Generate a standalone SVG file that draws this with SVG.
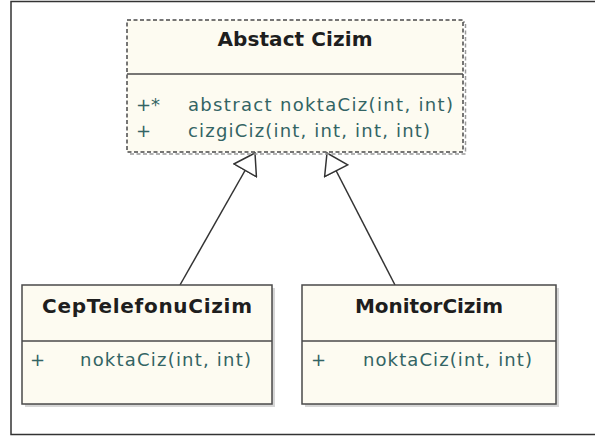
<svg xmlns="http://www.w3.org/2000/svg" width="595" height="437" viewBox="0 0 595 437">
  <style>
    .box { fill: #fdfbf1; stroke: #4a4a4a; stroke-width: 1.5; }
    .abstract { stroke-dasharray: 4 2.5; }
    .shadow { fill: #c4c4c4; opacity: 0.7; }
    .shadow-dash { fill: none; stroke: #9a9a9a; stroke-width: 1.5; stroke-dasharray: 4 2.5; }
    .sep { stroke: #4a4a4a; stroke-width: 1.5; }
    .title { font-family: "DejaVu Sans", "Liberation Sans", sans-serif; font-weight: bold; font-size: 20px; fill: #1e1e1e; }
    .member { font-family: "DejaVu Sans", "Liberation Sans", sans-serif; font-size: 18px; fill: #336464; }
    .edge { stroke: #333; stroke-width: 1.5; fill: none; }
  </style>
  <defs>
    <!-- hollow triangle for generalization -->
    <marker id="inherit" markerUnits="userSpaceOnUse" markerWidth="22" markerHeight="28" viewBox="-1 -1 22 28" refX="20" refY="13" orient="auto">
      <path d="M20,13 L0,0 L0,26 Z" fill="#fff" stroke="#333" stroke-width="1.5"/>
    </marker>
  </defs>

  <rect x="0" y="0" width="595" height="437" fill="#fff"/>
  <!-- outer frame -->
  <rect x="11" y="1.5" width="600" height="433" fill="none" stroke="#333" stroke-width="1.5"/>

  <g id="connectors">
    <line class="edge" x1="180" y1="285" x2="255" y2="153" marker-end="url(#inherit)"/>
    <line class="edge" x1="395" y1="285" x2="327" y2="153" marker-end="url(#inherit)"/>
  </g>

  <g id="abstract-cizim">
    <rect class="shadow-dash" x="129.5" y="22" width="336" height="132"/>
    <rect class="box abstract" x="127" y="20" width="336" height="132"/>
    <line class="sep" x1="127" y1="74" x2="463" y2="74" stroke-width="2.2"/>
    <text class="title" x="295" y="46" text-anchor="middle" textLength="155" lengthAdjust="spacing">Abstact Cizim</text>
    <text class="member" x="136" y="111">+*</text>
    <text class="member" x="188" y="111" textLength="265" lengthAdjust="spacing">abstract noktaCiz(int, int)</text>
    <text class="member" x="136" y="137">+</text>
    <text class="member" x="188" y="137" textLength="242" lengthAdjust="spacing">cizgiCiz(int, int, int, int)</text>
  </g>

  <g id="cep-telefonu-cizim">
    <rect class="shadow" x="25" y="288" width="250" height="119"/>
    <rect class="box" x="22" y="285" width="250" height="119"/>
    <line class="sep" x1="22" y1="341" x2="272" y2="341"/>
    <text class="title" x="147" y="313" text-anchor="middle" textLength="210" lengthAdjust="spacing">CepTelefonuCizim</text>
    <text class="member" x="30" y="366">+</text>
    <text class="member" x="80" y="366" textLength="171" lengthAdjust="spacing">noktaCiz(int, int)</text>
  </g>

  <g id="monitor-cizim">
    <rect class="shadow" x="305" y="288" width="254" height="119"/>
    <rect class="box" x="302" y="285" width="254" height="119"/>
    <line class="sep" x1="302" y1="341" x2="556" y2="341"/>
    <text class="title" x="429" y="313" text-anchor="middle" textLength="148" lengthAdjust="spacing">MonitorCizim</text>
    <text class="member" x="311" y="366">+</text>
    <text class="member" x="363" y="366" textLength="169" lengthAdjust="spacing">noktaCiz(int, int)</text>
  </g>
</svg>
